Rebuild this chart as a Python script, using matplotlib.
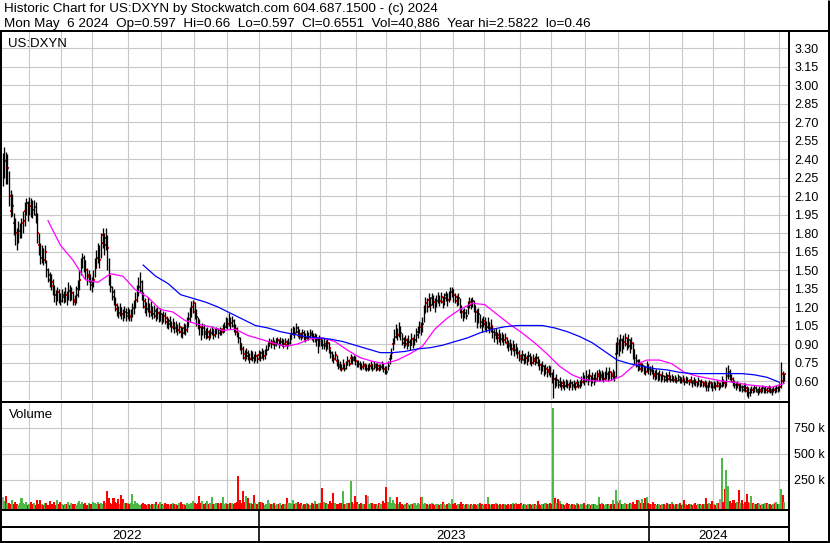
import numpy as np
import pandas as pd
import matplotlib
matplotlib.use("Agg")
import matplotlib.pyplot as plt
from matplotlib.lines import Line2D

plt.rcParams['font.family'] = ['Liberation Sans', 'DejaVu Sans']

W, H = 830, 543

# NYSE holidays inside the charted window
holidays = ["2022-05-30", "2022-06-20", "2022-07-04", "2022-09-05", "2022-11-24",
            "2022-12-26", "2023-01-02", "2023-01-16", "2023-02-20", "2023-04-07",
            "2023-05-29", "2023-06-19", "2023-07-04", "2023-09-04", "2023-11-23",
            "2023-12-25", "2024-01-01", "2024-01-15", "2024-02-19", "2024-03-29"]

# daily bars, May 6 2022 .. May 6 2024
close = [
    2.30, 2.38, 2.28, 2.33, 2.10, 1.98, 2.02, 1.88, 1.80, 1.74,
    1.82, 1.84, 1.88, 1.90, 1.98, 2.04, 1.97, 2.02, 2.00, 1.99,
    2.01, 1.95, 1.80, 1.70, 1.60, 1.64, 1.58, 1.65, 1.50, 1.46,
    1.42, 1.40, 1.37, 1.30, 1.27, 1.32, 1.28, 1.25, 1.30, 1.28,
    1.30, 1.27, 1.33, 1.29, 1.31, 1.26, 1.24, 1.30, 1.35, 1.42,
    1.55, 1.60, 1.57, 1.50, 1.44, 1.46, 1.40, 1.38, 1.42, 1.52,
    1.60, 1.66, 1.58, 1.72, 1.78, 1.70, 1.76, 1.68, 1.45, 1.36,
    1.32, 1.28, 1.22, 1.18, 1.15, 1.19, 1.14, 1.12, 1.16, 1.13,
    1.15, 1.12, 1.13, 1.19, 1.20, 1.26, 1.30, 1.36, 1.40, 1.33,
    1.25, 1.20, 1.18, 1.22, 1.16, 1.19, 1.14, 1.17, 1.13, 1.15,
    1.12, 1.14, 1.10, 1.13, 1.11, 1.08, 1.06, 1.09, 1.04, 1.07,
    1.03, 1.05, 1.01, 1.04, 1.00, 0.99, 1.03, 1.01, 1.06, 1.10,
    1.14, 1.20, 1.23, 1.16, 1.12, 1.08, 1.04, 0.98, 1.03, 1.00,
    0.98, 1.00, 0.96, 0.99, 1.01, 0.97, 1.00, 1.02, 0.99, 1.01,
    1.00, 1.02, 1.04, 1.08, 1.06, 1.10, 1.07, 1.09, 1.05, 1.02,
    1.00, 0.95, 0.90, 0.86, 0.82, 0.79, 0.83, 0.80, 0.78, 0.81,
    0.79, 0.77, 0.80, 0.78, 0.81, 0.79, 0.83, 0.80, 0.82, 0.85,
    0.88, 0.91, 0.90, 0.92, 0.89, 0.91, 0.93, 0.90, 0.92, 0.91,
    0.90, 0.92, 0.89, 0.91, 0.94, 0.98, 1.01, 0.99, 1.03, 1.00,
    0.98, 0.96, 0.99, 0.97, 0.95, 0.98, 0.96, 0.99, 0.97, 0.95,
    0.96, 0.93, 0.88, 0.94, 0.92, 0.89, 0.90, 0.88, 0.91, 0.87,
    0.83, 0.80, 0.78, 0.81, 0.76, 0.73, 0.71, 0.70, 0.74, 0.70,
    0.73, 0.76, 0.74, 0.79, 0.77, 0.79, 0.76, 0.73, 0.74, 0.72,
    0.71, 0.73, 0.72, 0.70, 0.70, 0.72, 0.73, 0.70, 0.73, 0.71,
    0.72, 0.70, 0.71, 0.73, 0.70, 0.68, 0.67, 0.72, 0.78, 0.83,
    0.90, 0.96, 1.00, 0.97, 1.02, 0.99, 0.94, 0.91, 0.93, 0.90,
    0.92, 0.89, 0.94, 0.91, 0.93, 0.97, 1.00, 1.04, 1.02, 1.06,
    1.15, 1.23, 1.20, 1.26, 1.22, 1.27, 1.24, 1.21, 1.25, 1.28,
    1.25, 1.28, 1.24, 1.27, 1.30, 1.26, 1.29, 1.32, 1.34, 1.30,
    1.28, 1.25, 1.27, 1.20, 1.16, 1.12, 1.15, 1.13, 1.20, 1.24,
    1.22, 1.25, 1.21, 1.16, 1.10, 1.14, 1.08, 1.05, 1.09, 1.06,
    1.04, 1.07, 1.03, 1.05, 1.00, 0.97, 0.99, 0.95, 0.97, 0.94,
    0.96, 0.93, 0.95, 0.91, 0.88, 0.90, 0.86, 0.89, 0.85, 0.87,
    0.83, 0.80, 0.78, 0.81, 0.77, 0.79, 0.76, 0.80, 0.78, 0.75,
    0.78, 0.76, 0.79, 0.75, 0.73, 0.70, 0.72, 0.68, 0.70, 0.67,
    0.69, 0.66, 0.60, 0.62, 0.58, 0.61, 0.57, 0.59, 0.56, 0.58,
    0.56, 0.58, 0.57, 0.55, 0.58, 0.56, 0.57, 0.55, 0.58, 0.56,
    0.57, 0.59, 0.62, 0.60, 0.63, 0.61, 0.64, 0.60, 0.62, 0.61,
    0.62, 0.64, 0.66, 0.63, 0.65, 0.62, 0.64, 0.66, 0.63, 0.67,
    0.64, 0.66, 0.63, 0.82, 0.90, 0.86, 0.93, 0.88, 0.92, 0.95,
    0.90, 0.93, 0.88, 0.91, 0.85, 0.79, 0.76, 0.72, 0.74, 0.70,
    0.72, 0.69, 0.67, 0.73, 0.70, 0.68, 0.69, 0.66, 0.64, 0.66,
    0.63, 0.65, 0.62, 0.64, 0.61, 0.63, 0.62, 0.64, 0.61, 0.63,
    0.61, 0.62, 0.60, 0.63, 0.61, 0.60, 0.62, 0.59, 0.61, 0.60,
    0.59, 0.61, 0.58, 0.60, 0.59, 0.57, 0.60, 0.58, 0.59, 0.57,
    0.58, 0.56, 0.55, 0.58, 0.57, 0.55, 0.57, 0.56, 0.58, 0.56,
    0.56, 0.60, 0.58, 0.56, 0.64, 0.67, 0.64, 0.62, 0.59, 0.57,
    0.56, 0.57, 0.54, 0.55, 0.53, 0.55, 0.54, 0.52, 0.50, 0.51,
    0.53, 0.52, 0.54, 0.53, 0.51, 0.53, 0.52, 0.54, 0.52, 0.53,
    0.52, 0.54, 0.53, 0.51, 0.53, 0.52, 0.54, 0.53, 0.55, 0.66,
    0.60, 0.6551]

high = [
    2.45, 2.50, 2.46, 2.44, 2.30, 2.15, 2.12, 1.96, 1.92, 1.84,
    1.90, 1.88, 1.92, 1.98, 2.05, 2.08, 2.06, 2.09, 2.08, 2.07,
    2.07, 2.05, 1.96, 1.80, 1.72, 1.70, 1.68, 1.70, 1.58, 1.52,
    1.48, 1.47, 1.43, 1.38, 1.34, 1.36, 1.35, 1.31, 1.35, 1.33,
    1.36, 1.33, 1.40, 1.38, 1.36, 1.33, 1.30, 1.37, 1.42, 1.50,
    1.60, 1.64, 1.62, 1.58, 1.52, 1.50, 1.47, 1.44, 1.50, 1.60,
    1.66, 1.72, 1.70, 1.80, 1.84, 1.80, 1.84, 1.78, 1.60, 1.46,
    1.37, 1.35, 1.28, 1.23, 1.21, 1.23, 1.20, 1.18, 1.21, 1.19,
    1.20, 1.18, 1.18, 1.23, 1.26, 1.32, 1.38, 1.44, 1.48, 1.42,
    1.32, 1.27, 1.24, 1.28, 1.23, 1.25, 1.21, 1.22, 1.19, 1.20,
    1.17, 1.19, 1.15, 1.17, 1.16, 1.13, 1.11, 1.13, 1.09, 1.11,
    1.08, 1.09, 1.06, 1.08, 1.05, 1.04, 1.07, 1.06, 1.12, 1.16,
    1.20, 1.25, 1.26, 1.24, 1.18, 1.12, 1.10, 1.05, 1.07, 1.06,
    1.03, 1.04, 1.01, 1.03, 1.05, 1.02, 1.03, 1.04, 1.03, 1.04,
    1.03, 1.06, 1.08, 1.12, 1.11, 1.15, 1.12, 1.13, 1.10, 1.06,
    1.04, 1.00, 0.96, 0.91, 0.88, 0.85, 0.87, 0.85, 0.83, 0.85,
    0.84, 0.82, 0.84, 0.82, 0.85, 0.84, 0.87, 0.85, 0.86, 0.89,
    0.92, 0.95, 0.94, 0.96, 0.93, 0.95, 0.96, 0.94, 0.96, 0.95,
    0.94, 0.95, 0.93, 0.95, 0.98, 1.03, 1.05, 1.04, 1.07, 1.05,
    1.02, 1.00, 1.02, 1.01, 0.99, 1.01, 1.00, 1.02, 1.01, 0.99,
    0.99, 0.98, 0.95, 0.97, 0.96, 0.94, 0.95, 0.93, 0.94, 0.92,
    0.86, 0.84, 0.82, 0.84, 0.81, 0.78, 0.76, 0.74, 0.78, 0.74,
    0.76, 0.80, 0.78, 0.82, 0.80, 0.81, 0.80, 0.77, 0.77, 0.76,
    0.75, 0.76, 0.75, 0.74, 0.74, 0.75, 0.76, 0.74, 0.76, 0.75,
    0.75, 0.74, 0.74, 0.76, 0.74, 0.72, 0.72, 0.76, 0.82, 0.87,
    0.95, 1.02, 1.06, 1.03, 1.08, 1.05, 0.99, 0.96, 0.97, 0.95,
    0.97, 0.94, 0.99, 0.96, 0.98, 1.03, 1.05, 1.09, 1.08, 1.12,
    1.22, 1.28, 1.27, 1.31, 1.28, 1.31, 1.30, 1.27, 1.30, 1.32,
    1.30, 1.32, 1.29, 1.31, 1.33, 1.31, 1.33, 1.36, 1.36, 1.35,
    1.31, 1.30, 1.31, 1.27, 1.22, 1.18, 1.19, 1.18, 1.25, 1.28,
    1.27, 1.28, 1.26, 1.21, 1.18, 1.19, 1.14, 1.11, 1.13, 1.12,
    1.09, 1.12, 1.08, 1.10, 1.05, 1.02, 1.03, 1.00, 1.02, 0.99,
    1.00, 0.98, 0.99, 0.96, 0.93, 0.94, 0.91, 0.93, 0.90, 0.91,
    0.87, 0.85, 0.82, 0.85, 0.82, 0.83, 0.81, 0.84, 0.83, 0.80,
    0.82, 0.80, 0.83, 0.80, 0.78, 0.75, 0.76, 0.73, 0.74, 0.72,
    0.73, 0.72, 0.67, 0.70, 0.63, 0.66, 0.62, 0.63, 0.60, 0.62,
    0.60, 0.62, 0.61, 0.59, 0.62, 0.60, 0.61, 0.59, 0.62, 0.60,
    0.61, 0.64, 0.67, 0.65, 0.69, 0.66, 0.70, 0.65, 0.67, 0.66,
    0.67, 0.69, 0.70, 0.68, 0.69, 0.67, 0.68, 0.71, 0.68, 0.71,
    0.68, 0.70, 0.68, 0.92, 0.96, 0.94, 0.98, 0.95, 0.97, 0.99,
    0.96, 0.98, 0.94, 0.96, 0.92, 0.86, 0.82, 0.78, 0.78, 0.75,
    0.75, 0.73, 0.72, 0.76, 0.74, 0.72, 0.73, 0.70, 0.69, 0.70,
    0.67, 0.69, 0.66, 0.68, 0.65, 0.67, 0.66, 0.68, 0.65, 0.66,
    0.64, 0.65, 0.63, 0.66, 0.64, 0.63, 0.65, 0.62, 0.64, 0.63,
    0.62, 0.64, 0.61, 0.63, 0.62, 0.60, 0.63, 0.61, 0.62, 0.60,
    0.61, 0.60, 0.59, 0.61, 0.60, 0.59, 0.60, 0.59, 0.61, 0.59,
    0.59, 0.64, 0.62, 0.60, 0.71, 0.73, 0.70, 0.66, 0.63, 0.61,
    0.59, 0.60, 0.58, 0.58, 0.57, 0.58, 0.58, 0.56, 0.55, 0.54,
    0.56, 0.55, 0.57, 0.56, 0.54, 0.56, 0.55, 0.57, 0.55, 0.56,
    0.55, 0.57, 0.56, 0.54, 0.56, 0.55, 0.57, 0.56, 0.58, 0.755,
    0.68, 0.66]

low = [
    2.18, 2.25, 2.20, 2.20, 2.02, 1.93, 1.94, 1.78, 1.70, 1.66,
    1.72, 1.76, 1.76, 1.80, 1.86, 1.95, 1.90, 1.95, 1.93, 1.92,
    1.95, 1.88, 1.72, 1.62, 1.55, 1.56, 1.54, 1.56, 1.44, 1.40,
    1.36, 1.34, 1.30, 1.24, 1.22, 1.25, 1.23, 1.22, 1.24, 1.23,
    1.24, 1.22, 1.26, 1.25, 1.26, 1.22, 1.22, 1.23, 1.28, 1.34,
    1.46, 1.52, 1.48, 1.43, 1.38, 1.40, 1.34, 1.32, 1.36, 1.44,
    1.52, 1.56, 1.52, 1.60, 1.68, 1.62, 1.66, 1.50, 1.38, 1.32,
    1.26, 1.22, 1.17, 1.13, 1.11, 1.13, 1.10, 1.09, 1.11, 1.09,
    1.10, 1.09, 1.09, 1.12, 1.14, 1.19, 1.24, 1.29, 1.32, 1.26,
    1.19, 1.15, 1.13, 1.16, 1.12, 1.13, 1.10, 1.11, 1.09, 1.10,
    1.08, 1.09, 1.06, 1.08, 1.06, 1.03, 1.02, 1.04, 1.00, 1.02,
    0.99, 1.00, 0.97, 0.99, 0.96, 0.95, 0.98, 0.97, 1.00, 1.04,
    1.08, 1.12, 1.15, 1.10, 1.05, 1.02, 0.97, 0.93, 0.97, 0.95,
    0.94, 0.95, 0.93, 0.95, 0.97, 0.94, 0.96, 0.98, 0.95, 0.97,
    0.97, 0.99, 1.00, 1.03, 1.02, 1.05, 1.02, 1.04, 1.00, 0.97,
    0.96, 0.91, 0.85, 0.82, 0.78, 0.76, 0.78, 0.77, 0.75, 0.77,
    0.76, 0.75, 0.76, 0.75, 0.77, 0.76, 0.79, 0.77, 0.78, 0.81,
    0.85, 0.88, 0.87, 0.89, 0.86, 0.88, 0.90, 0.87, 0.89, 0.88,
    0.87, 0.89, 0.86, 0.88, 0.90, 0.94, 0.97, 0.95, 0.99, 0.96,
    0.94, 0.93, 0.95, 0.93, 0.92, 0.94, 0.93, 0.95, 0.93, 0.92,
    0.92, 0.88, 0.83, 0.89, 0.88, 0.86, 0.86, 0.84, 0.86, 0.83,
    0.79, 0.76, 0.75, 0.77, 0.72, 0.70, 0.69, 0.68, 0.70, 0.68,
    0.70, 0.73, 0.72, 0.74, 0.74, 0.76, 0.73, 0.71, 0.71, 0.70,
    0.69, 0.70, 0.69, 0.68, 0.68, 0.69, 0.70, 0.68, 0.70, 0.68,
    0.69, 0.68, 0.69, 0.70, 0.67, 0.66, 0.66, 0.69, 0.74, 0.78,
    0.85, 0.90, 0.95, 0.93, 0.96, 0.93, 0.89, 0.87, 0.88, 0.86,
    0.88, 0.85, 0.89, 0.87, 0.89, 0.92, 0.95, 0.99, 0.97, 1.00,
    1.08, 1.16, 1.16, 1.20, 1.17, 1.22, 1.19, 1.16, 1.20, 1.23,
    1.21, 1.23, 1.19, 1.22, 1.25, 1.21, 1.24, 1.26, 1.28, 1.24,
    1.23, 1.21, 1.22, 1.15, 1.11, 1.09, 1.11, 1.10, 1.14, 1.19,
    1.18, 1.20, 1.16, 1.08, 1.03, 1.07, 1.03, 1.00, 1.04, 1.01,
    1.00, 1.02, 0.99, 1.00, 0.95, 0.92, 0.94, 0.90, 0.92, 0.89,
    0.92, 0.89, 0.91, 0.87, 0.84, 0.85, 0.81, 0.84, 0.80, 0.82,
    0.79, 0.76, 0.75, 0.77, 0.74, 0.75, 0.73, 0.76, 0.74, 0.72,
    0.74, 0.73, 0.75, 0.72, 0.69, 0.66, 0.68, 0.64, 0.66, 0.63,
    0.65, 0.63, 0.58, 0.46, 0.54, 0.56, 0.54, 0.55, 0.53, 0.54,
    0.53, 0.55, 0.54, 0.53, 0.55, 0.53, 0.54, 0.53, 0.55, 0.54,
    0.54, 0.56, 0.58, 0.57, 0.59, 0.57, 0.60, 0.56, 0.58, 0.57,
    0.59, 0.60, 0.60, 0.60, 0.61, 0.59, 0.61, 0.62, 0.60, 0.62,
    0.61, 0.62, 0.60, 0.63, 0.82, 0.80, 0.84, 0.83, 0.86, 0.88,
    0.85, 0.87, 0.83, 0.86, 0.78, 0.74, 0.71, 0.68, 0.69, 0.67,
    0.68, 0.66, 0.65, 0.67, 0.66, 0.65, 0.66, 0.62, 0.61, 0.62,
    0.60, 0.61, 0.59, 0.61, 0.59, 0.60, 0.59, 0.61, 0.59, 0.60,
    0.59, 0.59, 0.58, 0.60, 0.58, 0.58, 0.59, 0.57, 0.58, 0.58,
    0.57, 0.58, 0.55, 0.57, 0.56, 0.55, 0.57, 0.55, 0.56, 0.55,
    0.55, 0.52, 0.52, 0.55, 0.54, 0.52, 0.54, 0.53, 0.55, 0.53,
    0.54, 0.55, 0.56, 0.54, 0.57, 0.62, 0.61, 0.59, 0.56, 0.54,
    0.53, 0.54, 0.52, 0.52, 0.51, 0.52, 0.51, 0.48, 0.46, 0.48,
    0.50, 0.50, 0.51, 0.51, 0.49, 0.50, 0.50, 0.51, 0.50, 0.50,
    0.50, 0.51, 0.50, 0.49, 0.51, 0.50, 0.51, 0.51, 0.52, 0.54,
    0.58, 0.597]

# volume in thousands of shares
volume_k = [
    90, 45, 100, 25, 30, 20, 60, 15, 40, 20,
    10, 25, 75, 30, 15, 35, 10, 20, 35, 15,
    25, 10, 55, 20, 55, 15, 10, 25, 30, 10,
    45, 20, 15, 40, 10, 55, 20, 40, 15, 10,
    20, 15, 35, 10, 25, 15, 20, 10, 30, 45,
    20, 40, 15, 25, 10, 30, 20, 15, 40, 25,
    15, 35, 20, 30, 15, 45, 25, 144, 75, 30,
    20, 77, 35, 25, 65, 20, 106, 70, 25, 30,
    30, 15, 25, 115, 20, 45, 30, 15, 10, 20,
    30, 15, 10, 20, 15, 10, 20, 15, 35, 10,
    15, 40, 20, 10, 25, 15, 20, 10, 15, 30,
    15, 20, 10, 25, 35, 15, 20, 10, 30, 20,
    15, 25, 50, 30, 20, 25, 96, 30, 45, 20,
    25, 45, 20, 30, 85, 20, 15, 25, 30, 20,
    25, 85, 20, 30, 15, 20, 30, 25, 15, 30,
    40, 288, 60, 30, 144, 40, 96, 75, 30, 25,
    20, 106, 25, 15, 40, 35, 40, 30, 10, 15,
    60, 25, 15, 20, 30, 10, 20, 15, 25, 10,
    20, 15, 80, 25, 30, 15, 55, 20, 25, 40,
    15, 25, 10, 20, 15, 30, 20, 10, 25, 15,
    50, 20, 15, 30, 25, 173, 40, 30, 20, 15,
    48, 25, 123, 30, 20, 15, 25, 30, 144, 20,
    15, 30, 25, 240, 40, 20, 96, 35, 20, 15,
    25, 20, 15, 106, 100, 20, 25, 30, 15, 20,
    10, 25, 15, 20, 50, 25, 183, 40, 90, 30,
    60, 25, 15, 90, 20, 40, 15, 10, 20, 25,
    15, 10, 20, 15, 25, 10, 33, 15, 90, 90,
    20, 30, 15, 10, 20, 30, 15, 10, 20, 15,
    10, 15, 40, 20, 10, 15, 25, 20, 67, 15,
    25, 10, 15, 20, 40, 15, 10, 20, 15, 10,
    15, 10, 20, 15, 10, 20, 25, 15, 10, 20,
    15, 90, 20, 10, 15, 20, 30, 15, 10, 15,
    10, 15, 20, 10, 15, 10, 20, 25, 15, 25,
    20, 15, 25, 10, 15, 20, 10, 15, 20, 10,
    15, 20, 10, 50, 15, 10, 20, 15, 30, 20,
    15, 25, 20, 940, 80, 30, 70, 51, 20, 15,
    10, 20, 25, 15, 10, 20, 15, 10, 25, 15,
    10, 20, 15, 25, 10, 15, 20, 10, 15, 20,
    15, 10, 90, 20, 25, 15, 10, 20, 15, 10,
    20, 58, 15, 154, 50, 30, 55, 20, 15, 30,
    20, 15, 25, 20, 40, 15, 20, 60, 50, 25,
    67, 30, 80, 90, 25, 20, 15, 35, 20, 10,
    15, 20, 10, 15, 20, 10, 25, 15, 20, 40,
    15, 10, 20, 15, 25, 10, 15, 55, 20, 10,
    15, 20, 10, 15, 25, 10, 20, 15, 10, 20,
    15, 77, 20, 30, 15, 48, 20, 10, 25, 30,
    67, 458, 38, 163, 346, 192, 45, 30, 60, 58,
    25, 40, 154, 30, 60, 20, 35, 115, 40, 30,
    96, 25, 15, 20, 30, 15, 10, 20, 15, 25,
    30, 15, 20, 10, 15, 25, 40, 15, 20, 163,
    106, 41]

# moving averages as drawn, sampled every 8 bars
ma_fast_start, ma_slow_start, ma_step = 29, 90, 8
ma_fast = [
    1.90, 1.70, 1.58, 1.42, 1.40, 1.47, 1.45, 1.34, 1.28, 1.18,
    1.16, 1.09, 1.06, 1.04, 1.01, 1.02, 0.97, 0.94, 0.91, 0.88,
    0.90, 0.94, 0.95, 0.92, 0.85, 0.79, 0.76, 0.74, 0.77, 0.82,
    0.88, 1.02, 1.11, 1.18, 1.23, 1.22, 1.14, 1.06, 0.99, 0.91,
    0.82, 0.72, 0.65, 0.61, 0.60, 0.60, 0.64, 0.73, 0.77, 0.77,
    0.74, 0.67, 0.64, 0.62, 0.60, 0.59, 0.57, 0.56, 0.55, 0.58]
ma_slow = [
    1.54, 1.45, 1.39, 1.30, 1.27, 1.24, 1.20, 1.15, 1.10, 1.05,
    1.03, 1.00, 0.98, 0.96, 0.95, 0.94, 0.92, 0.89, 0.86, 0.83,
    0.83, 0.84, 0.86, 0.87, 0.89, 0.92, 0.95, 0.99, 1.02, 1.04,
    1.05, 1.05, 1.05, 1.03, 1.00, 0.96, 0.91, 0.84, 0.77, 0.74,
    0.72, 0.70, 0.69, 0.67, 0.66, 0.66, 0.66, 0.66, 0.66, 0.65,
    0.63, 0.59]

header_1 = "Historic Chart for US:DXYN by Stockwatch.com 604.687.1500 - (c) 2024"
header_2 = ("Mon May  6 2024  Op=0.597  Hi=0.66  Lo=0.597  Cl=0.6551  "
            "Vol=40,886  Year hi=2.5822  lo=0.46")
symbol = "US:DXYN"
price_ticks = [0.60, 0.75, 0.90, 1.05, 1.20, 1.35, 1.50, 1.65, 1.80, 1.95,
               2.10, 2.25, 2.40, 2.55, 2.70, 2.85, 3.00, 3.15, 3.30]
vol_ticks_k = [250, 500, 750]
vol_tick_labels = ["250 k", "500 k", "750 k"]

n = len(close)
x = np.arange(n)
dates = pd.bdate_range("2022-05-06", "2024-05-06", freq="C", holidays=holidays)
dates = dates[-n:]
off = n - len(dates)
month_starts = [i + off for i in range(1, len(dates)) if dates[i].month != dates[i - 1].month]
year_starts = [i + off for i in range(1, len(dates)) if dates[i].year != dates[i - 1].year]

vol = np.array(volume_k) * 1000.0
cl = np.array(close)
chg = np.diff(cl, prepend=np.nan)
vol_colors = np.where(chg > 1e-9, '#4cb848', np.where(chg < -1e-9, '#ff0000', '#a8a8a8'))

GRID = '#c8c8c8'
FS = 9


def rect(l, t, r, b):
    return [l / W, 1 - b / H, (r - l) / W, (b - t) / H]


fig = plt.figure(figsize=(W / 100, H / 100), dpi=100)
fig.patch.set_facecolor('white')

xlim = (-0.5, n + 1.5)

# price panel
ax_p = fig.add_axes(rect(2, 32, 788, 400))
ax_p.set_xlim(*xlim)
ax_p.set_ylim(0.446, 3.43)
ax_p.set_xticks([m - 0.5 for m in month_starts])
ax_p.set_xticklabels([])
ax_p.set_yticks(price_ticks)
ax_p.set_yticklabels([f"{v:.2f}" for v in price_ticks])
ax_p.yaxis.tick_right()
ax_p.tick_params(axis='both', length=0, labelsize=FS, pad=4.5)
ax_p.grid(True, color=GRID, lw=0.8)
ax_p.set_axisbelow(True)
for s in ax_p.spines.values():
    s.set_visible(False)

# close ticks sit just right of each bar, under the bars, so neighbours hide many
ax_p.plot(x + 0.5, close, 's', ms=1.5, mew=0, color='#ff0000', zorder=2)
ax_p.vlines(x, low, high, color='black', lw=0.95, zorder=3)

fast_idx = np.arange(ma_fast_start, ma_fast_start + ma_step * len(ma_fast), ma_step)
slow_idx = np.arange(ma_slow_start, ma_slow_start + ma_step * len(ma_slow), ma_step)
ax_p.plot(fast_idx, ma_fast, color='#ff00ff', lw=0.9, zorder=10)
ax_p.plot(slow_idx, ma_slow, color='#0000ff', lw=0.9, zorder=10)

# volume panel
VFLOOR = -29000
ax_v = fig.add_axes(rect(2, 403, 788, 509))
ax_v.set_xlim(*xlim)
ax_v.set_ylim(VFLOOR, 990000)
ax_v.set_xticks([m - 0.5 for m in month_starts])
ax_v.set_xticklabels([])
ax_v.set_yticks([v * 1000 for v in vol_ticks_k])
ax_v.set_yticklabels(vol_tick_labels)
ax_v.yaxis.tick_right()
ax_v.tick_params(axis='both', length=0, labelsize=FS, pad=4.5)
ax_v.grid(True, color=GRID, lw=0.8)
ax_v.set_axisbelow(True)
for s in ax_v.spines.values():
    s.set_visible(False)
ax_v.bar(x, vol - VFLOOR, bottom=VFLOOR, width=1.3, color=vol_colors, lw=0,
         antialiased=False)

# date rows
ax_d = fig.add_axes(rect(2, 511, 788, 541))
ax_d.set_xlim(*xlim)
ax_d.set_ylim(0, 30)
ax_d.axis('off')
bounds = [xlim[0]] + [y - 0.5 for y in year_starts] + [n - 1]
years = [dates[0].year + k for k in range(len(bounds) - 1)]
for yb in year_starts:
    ax_d.vlines(yb - 0.5, 0, 30, color='black', lw=1.2)
for k, yr in enumerate(years):
    ax_d.text((bounds[k] + bounds[k + 1]) / 2 - 2, 1.6, str(yr), ha='center',
              va='baseline', fontsize=FS + 0.5)


# frame lines, in pixels
def hline(y, x0, x1, w):
    fig.add_artist(Line2D([x0 / W, x1 / W], [1 - y / H, 1 - y / H], lw=w * 0.72,
                          color='black', transform=fig.transFigure, solid_capstyle='butt'))


def vline(xp, y0, y1, w):
    fig.add_artist(Line2D([xp / W, xp / W], [1 - y0 / H, 1 - y1 / H], lw=w * 0.72,
                          color='black', transform=fig.transFigure, solid_capstyle='butt'))


hline(30.5, 0, W, 2)
vline(1, 29.5, H, 2)
vline(828.5, 0, H, 3)
hline(541.8, 0, W, 2)
vline(789, 29.5, H, 2)
hline(400.5, 0, 789, 1)
hline(402.3, 0, 789, 1)
hline(510, 0, 789, 2)
hline(526.8, 0, 789, 2)

# texts
fig.text(4 / W, 1 - 12 / H, header_1, fontsize=9.7, va='baseline')
fig.text(4 / W, 1 - 26.5 / H, header_2, fontsize=9.7, va='baseline')
fig.text(8 / W, 1 - 47 / H, symbol, fontsize=FS + 0.5, va='baseline')
fig.text(9 / W, 1 - 418 / H, "Volume", fontsize=FS + 0.5, va='baseline')

fig.savefig("out.png", dpi=100)
